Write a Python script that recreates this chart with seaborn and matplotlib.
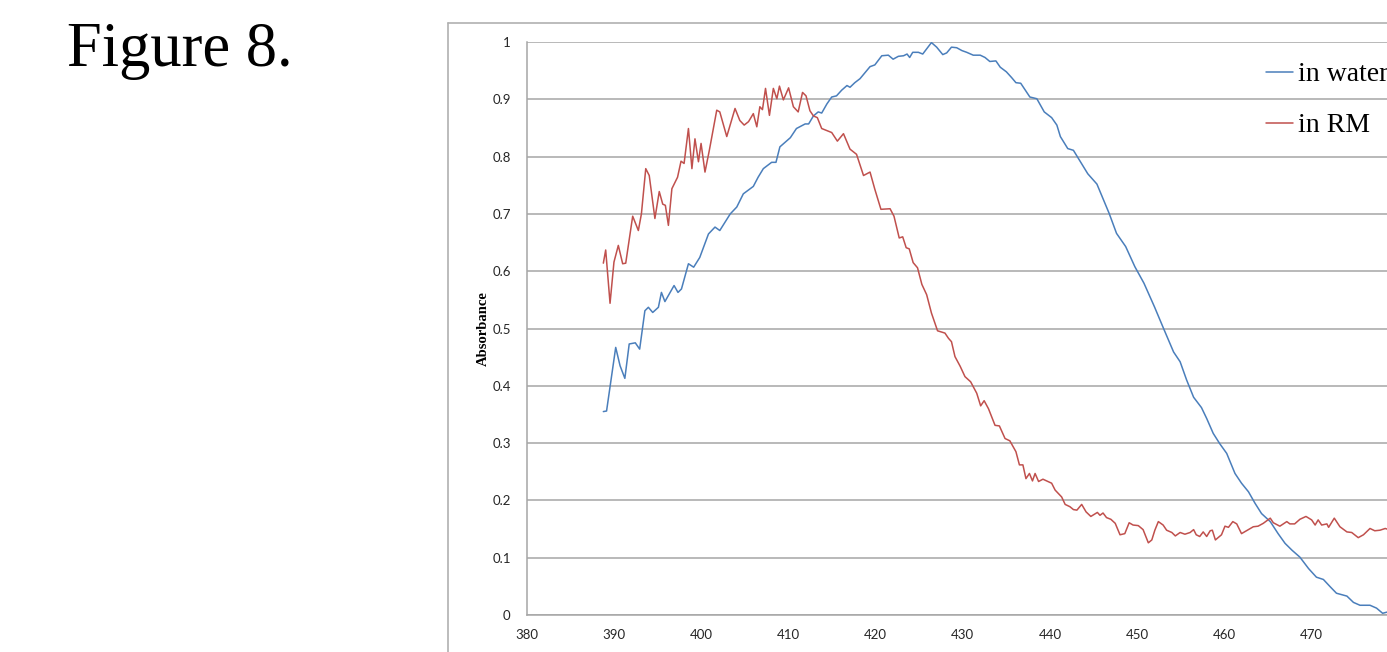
import numpy as np
import pandas as pd
import matplotlib
matplotlib.use("Agg")
import matplotlib.pyplot as plt
from matplotlib.lines import Line2D
import seaborn as sns

# Дані: довжина хвилі (нм) та поглинання
water_nm = [388.73, 389.1, 390.15, 390.65, 391.2, 391.7, 392.4, 392.9, 393.5, 393.9,
            394.4, 395.05, 395.4, 395.8, 396.85, 397.3, 397.7, 398.5, 399.1, 399.8,
            400.8, 401.55, 402.1, 403.3, 404.05, 404.8, 405.95, 406.5, 407.1, 408.05,
            408.55, 409.0, 410.2, 410.9, 411.9, 412.3, 412.85, 413.4, 413.8, 414.4,
            414.95, 415.5, 416.1, 416.7, 417.05, 417.6, 418.2, 418.8, 419.35, 419.9,
            420.7, 421.45, 422.0, 422.6, 423.2, 423.6, 423.9, 424.25, 424.9, 425.4,
            425.85, 426.4, 427.0, 427.7, 428.15, 428.7, 429.3, 429.9, 430.45, 431.2,
            432.0, 432.55, 433.1, 433.8, 434.3, 435.0, 435.6, 436.1, 436.65, 437.7,
            438.5, 439.35, 440.2, 440.8, 441.2, 442.05, 442.7, 443.5, 444.35, 445.4,
            446.0, 446.8, 447.65, 448.7, 449.75, 450.8, 452.0, 453.05, 454.2, 454.95,
            455.7, 456.5, 457.4, 458.0, 458.75, 459.5, 460.3, 461.25, 462.0, 462.8,
            463.55, 464.3, 465.3, 466.2, 467.0, 467.8, 468.7, 469.7, 470.6, 471.4,
            472.2, 472.9, 474.1, 474.85, 475.6, 476.75, 477.5, 478.2, 478.7]
water_abs = [0.355, 0.356, 0.467, 0.435, 0.413, 0.473, 0.475, 0.464, 0.531, 0.537,
             0.528, 0.537, 0.563, 0.547, 0.575, 0.563, 0.569, 0.613, 0.607, 0.624,
             0.665, 0.677, 0.671, 0.700, 0.712, 0.735, 0.748, 0.764, 0.779, 0.790,
             0.790, 0.817, 0.833, 0.849, 0.857, 0.857, 0.871, 0.878, 0.876, 0.892,
             0.904, 0.906, 0.916, 0.924, 0.921, 0.929, 0.936, 0.947, 0.957, 0.960,
             0.976, 0.977, 0.970, 0.975, 0.976, 0.979, 0.973, 0.982, 0.982, 0.979,
             0.988, 0.999, 0.991, 0.978, 0.981, 0.991, 0.990, 0.985, 0.982, 0.977,
             0.977, 0.973, 0.966, 0.967, 0.956, 0.948, 0.938, 0.929, 0.928, 0.904,
             0.901, 0.878, 0.868, 0.855, 0.835, 0.814, 0.811, 0.791, 0.770, 0.752,
             0.730, 0.701, 0.666, 0.643, 0.608, 0.579, 0.538, 0.500, 0.459, 0.442,
             0.410, 0.380, 0.362, 0.343, 0.317, 0.299, 0.282, 0.247, 0.230, 0.215,
             0.195, 0.177, 0.163, 0.142, 0.125, 0.113, 0.101, 0.081, 0.066, 0.062,
             0.049, 0.038, 0.033, 0.022, 0.017, 0.017, 0.012, 0.003, 0.005]

rm_nm = [388.73, 389.0, 389.5, 389.95, 390.45, 390.95, 391.3, 392.1, 392.75, 393.1,
         393.6, 394.0, 394.65, 395.15, 395.55, 395.85, 396.2, 396.6, 397.25, 397.65,
         398.0, 398.5, 398.9, 399.25, 399.65, 399.95, 400.4, 400.9, 401.75, 402.1,
         402.9, 403.85, 404.4, 404.9, 405.4, 405.95, 406.35, 406.7, 407.0, 407.35,
         407.8, 408.25, 408.65, 408.95, 409.4, 410.0, 410.55, 411.1, 411.6, 412.0,
         412.45, 412.85, 413.3, 413.8, 414.3, 414.95, 415.6, 416.3, 417.05, 417.8,
         418.6, 419.35, 419.9, 420.6, 421.65, 422.1, 422.7, 423.1, 423.5, 423.85,
         424.3, 424.8, 425.3, 425.85, 426.4, 427.1, 427.95, 428.35, 428.7, 429.1,
         429.7, 430.25, 430.9, 431.6, 432.05, 432.45, 432.95, 433.7, 434.2, 434.85,
         435.4, 436.1, 436.5, 436.9, 437.25, 437.65, 438.0, 438.3, 438.7, 439.2,
         440.2, 440.6, 441.35, 441.75, 442.3, 442.7, 443.1, 443.65, 444.15, 444.7,
         445.45, 445.75, 446.1, 446.5, 447.0, 447.5, 448.05, 448.6, 449.1, 449.55,
         450.15, 450.7, 451.3, 451.7, 452.05, 452.45, 453.0, 453.4, 454.0, 454.4,
         454.95, 455.5, 456.1, 456.5, 456.8, 457.2, 457.6, 458.0, 458.4, 458.65,
         459.0, 459.7, 460.1, 460.5, 461.0, 461.45, 462.0, 462.8, 463.35, 463.9,
         464.5, 465.3, 465.65, 466.4, 467.2, 467.55, 468.1, 468.7, 469.4, 470.05,
         470.45, 470.8, 471.2, 471.8, 472.0, 472.65, 473.3, 474.1, 474.65, 475.4,
         476.0, 476.75, 477.3, 477.9, 478.5, 478.7]
rm_abs = [0.614, 0.637, 0.544, 0.616, 0.645, 0.613, 0.614, 0.696, 0.671, 0.700,
          0.779, 0.767, 0.692, 0.739, 0.717, 0.715, 0.680, 0.744, 0.764, 0.792,
          0.788, 0.849, 0.779, 0.831, 0.791, 0.823, 0.773, 0.811, 0.881, 0.878,
          0.835, 0.884, 0.863, 0.855, 0.861, 0.875, 0.852, 0.887, 0.882, 0.919,
          0.872, 0.919, 0.901, 0.923, 0.899, 0.920, 0.887, 0.878, 0.912, 0.906,
          0.880, 0.871, 0.868, 0.849, 0.846, 0.842, 0.827, 0.840, 0.813, 0.804,
          0.767, 0.773, 0.743, 0.708, 0.709, 0.696, 0.658, 0.660, 0.641, 0.639,
          0.615, 0.606, 0.577, 0.559, 0.527, 0.496, 0.492, 0.483, 0.477, 0.451,
          0.434, 0.416, 0.407, 0.387, 0.365, 0.374, 0.360, 0.331, 0.330, 0.308,
          0.304, 0.285, 0.262, 0.262, 0.238, 0.247, 0.234, 0.247, 0.233, 0.237,
          0.230, 0.218, 0.206, 0.193, 0.189, 0.184, 0.183, 0.193, 0.180, 0.172,
          0.179, 0.174, 0.178, 0.170, 0.167, 0.160, 0.140, 0.142, 0.161, 0.157,
          0.156, 0.149, 0.126, 0.131, 0.148, 0.163, 0.157, 0.148, 0.144, 0.138,
          0.144, 0.141, 0.144, 0.149, 0.140, 0.137, 0.145, 0.137, 0.147, 0.148,
          0.131, 0.140, 0.155, 0.153, 0.163, 0.159, 0.142, 0.149, 0.154, 0.155,
          0.160, 0.169, 0.161, 0.155, 0.163, 0.159, 0.159, 0.167, 0.172, 0.166,
          0.157, 0.166, 0.157, 0.159, 0.153, 0.169, 0.154, 0.145, 0.144, 0.135,
          0.140, 0.151, 0.147, 0.148, 0.151, 0.150]

x_ticks = [380, 390, 400, 410, 420, 430, 440, 450, 460, 470]
y_ticks = [0, 0.1, 0.2, 0.3, 0.4, 0.5, 0.6, 0.7, 0.8, 0.9, 1]
y_tick_labels = ["0", "0.1", "0.2", "0.3", "0.4", "0.5", "0.6", "0.7", "0.8", "0.9", "1"]
series_labels = ["in water", "in RM"]

# Стиль
sns.set_style("white")
plt.rcParams['font.family'] = ['Lato', 'DejaVu Sans']

W, H = 1387, 652
fig = plt.figure(figsize=(W / 100, H / 100), dpi=100)
fig.patch.set_facecolor("white")

grid_col = "#a6a6a6"

# Область графіка (в пікселях: ліво 527, низ 615, верх 42, праворуч обрізано)
left, bottom, top = 527.3, 615.0, 42.0
ax = fig.add_axes([left / W, (H - bottom) / H, (W - left) / W, (bottom - top) / H])

df_water = pd.DataFrame({"nm": water_nm, "abs": water_abs})
df_rm = pd.DataFrame({"nm": rm_nm, "abs": rm_abs})
sns.lineplot(data=df_water, x="nm", y="abs", ax=ax, color="#4a7ebb", lw=1.1,
             estimator=None, label=series_labels[0])
sns.lineplot(data=df_rm, x="nm", y="abs", ax=ax, color="#c0504d", lw=1.1,
             estimator=None, label=series_labels[1])

ax.set_xlim(380, 380 + (W - left) / 8.71)
ax.set_ylim(0, 1)
ax.set_xticks(x_ticks)
ax.set_yticks(y_ticks)
ax.set_yticklabels(y_tick_labels)
ax.set_xlabel("")
ax.set_ylabel("Absorbance", family=["Liberation Serif"], fontweight="bold",
              fontsize=10.5, va="center", color="black")
ax.yaxis.set_label_coords((483 - left) / (W - left), 0.5)

ax.yaxis.grid(True, color=grid_col, lw=1.1)
ax.xaxis.grid(False)
ax.set_axisbelow(True)
for s in ["top", "right"]:
    ax.spines[s].set_visible(False)
for s in ["left", "bottom"]:
    ax.spines[s].set_color(grid_col)
    ax.spines[s].set_linewidth(1.1)
ax.tick_params(axis="both", direction="out", length=4, width=1.1, color=grid_col,
               labelsize=9.5, labelcolor="#262626")
ax.tick_params(axis="y", pad=8)
ax.tick_params(axis="x", pad=6)

# Легенда
leg = ax.legend(loc="upper left", bbox_to_anchor=(1265.6 / W, 1 - 62 / H),
                bbox_transform=fig.transFigure, frameon=False,
                prop={"family": "Liberation Serif", "size": 20},
                handlelength=1.0, handletextpad=0.15, borderpad=0, borderaxespad=0,
                labelspacing=0.92)
for t in leg.get_texts():
    t.set_color("black")

# Рамка діаграми
fig.add_artist(Line2D([448 / W, 448 / W], [0, 1 - 22.5 / H], color="#b0b0b0", lw=1.2))
fig.add_artist(Line2D([448 / W, 1], [1 - 22.5 / H, 1 - 22.5 / H], color="#b0b0b0", lw=1.2))

fig.text(66.7 / W, 1 - 66 / H, "Figure 8.", family=["Liberation Serif"], fontsize=45,
         ha="left", va="baseline", color="black")

fig.savefig("out.png", dpi=100)
